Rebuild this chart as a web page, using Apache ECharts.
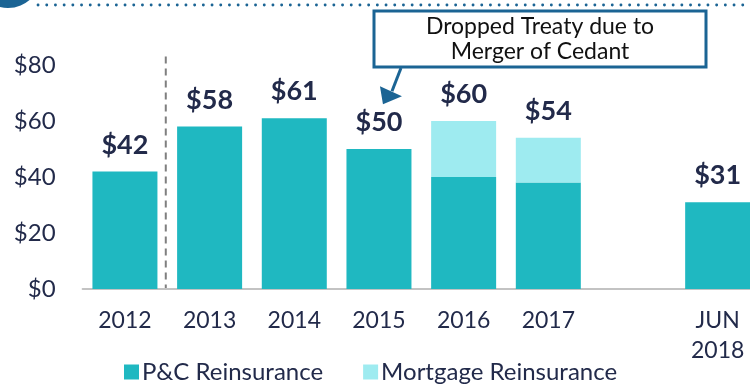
<!DOCTYPE html>
<html>
<head>
<meta charset="utf-8">
<script src="https://cdn.jsdelivr.net/npm/echarts@6/dist/echarts.min.js"></script>
<style>
  html, body { margin: 0; padding: 0; background: #fff; overflow: hidden; width: 750px; height: 386px; }
  /* canvas is wider than the page so the last bar runs off the right edge */
  #chart { width: 760px; height: 386px; }
</style>
</head>
<body>
<div id="chart"></div>
<script>
// Premium by year ($ millions); the blank category leaves a gap before the half-year bar
const categories = ['2012', '2013', '2014', '2015', '2016', '2017', '', 'JUN\n2018'];
const pcReinsurance = [42, 58, 61, 50, 40, 38, null, 31];
const mortgageReinsurance = [null, null, null, null, 20, 16, null, null];
const yTicks = [0, 20, 40, 60, 80];
const calloutText = 'Dropped Treaty due to\nMerger of Cedant';

const NAVY = '#222a4a';
const BLUE = '#1b6494';
const PC_COLOR = '#1fb8c1';
const MORT_COLOR = '#9eebf0';
const FONT = 'Lato, "Open Sans", sans-serif';

const totals = pcReinsurance.map((v, i) =>
  v == null ? null : v + (mortgageReinsurance[i] || 0));

const totalLabel = {
  show: true,
  position: 'top',
  distance: 13,
  color: NAVY,
  fontFamily: FONT,
  fontWeight: 'bold',
  fontSize: 27
};

const chart = echarts.init(document.getElementById('chart'), null, { renderer: 'canvas' });

chart.setOption({
  animation: false,
  textStyle: { fontFamily: FONT },
  grid: { left: 82.6, right: 0, top: 65, height: 224, containLabel: false },
  legend: {
    data: ['P&C Reinsurance', 'Mortgage Reinsurance'],
    top: 355,
    left: 119,
    icon: 'rect',
    itemWidth: 15,
    itemHeight: 15,
    itemGap: 40,
    textStyle: { color: NAVY, fontSize: 24, fontFamily: FONT, padding: [0, 0, 0, -2] }
  },
  xAxis: {
    type: 'category',
    data: categories,
    axisLine: { lineStyle: { color: '#c3c3c3', width: 2 } },
    axisTick: { show: false },
    axisLabel: { color: NAVY, fontSize: 23, fontFamily: FONT, margin: 17, lineHeight: 30, interval: 0 }
  },
  yAxis: {
    type: 'value',
    min: yTicks[0],
    max: yTicks[yTicks.length - 1],
    interval: 20,
    splitLine: { show: false },
    axisLine: { show: false },
    axisTick: { show: false },
    axisLabel: { color: NAVY, fontSize: 24, fontFamily: FONT, margin: 27, formatter: v => '$' + v }
  },
  series: [
    {
      name: 'P&C Reinsurance',
      type: 'bar',
      stack: 'premium',
      barWidth: 65,
      itemStyle: { color: PC_COLOR },
      data: pcReinsurance.map((v, i) => ({
        value: v,
        label: Object.assign({}, totalLabel, {
          show: mortgageReinsurance[i] == null,
          formatter: () => '$' + totals[i]
        })
      }))
    },
    {
      name: 'Mortgage Reinsurance',
      type: 'bar',
      stack: 'premium',
      barWidth: 65,
      itemStyle: { color: MORT_COLOR },
      label: Object.assign({}, totalLabel, {
        formatter: p => '$' + totals[p.dataIndex]
      }),
      data: mortgageReinsurance
    }
  ]
});

// Decorations placed relative to the axes: dashed divider after the first year,
// the callout box with its arrow, and the slide header rule.
const p0 = chart.convertToPixel({ seriesIndex: 0 }, [0, 0]);
const p1 = chart.convertToPixel({ seriesIndex: 0 }, [1, 0]);
const dividerX = (p0[0] + p1[0]) / 2 - 1.5;
const dividerTop = chart.convertToPixel({ seriesIndex: 0 }, [0, 83])[1];
const anchor = chart.convertToPixel({ seriesIndex: 0 }, [3, totals[3] + 16]);
const tip = [anchor[0] + 4, anchor[1]];

chart.setOption({
  graphic: [
    {
      type: 'line',
      shape: { x1: dividerX, y1: dividerTop, x2: dividerX, y2: p0[1] - 1 },
      style: { stroke: '#7f7f7f', lineWidth: 2, lineDash: [7, 5] }
    },
    {
      type: 'circle',
      shape: { cx: 8, cy: -25, r: 33 },
      style: { fill: BLUE }
    },
    {
      type: 'line',
      shape: { x1: 38, y1: 5, x2: 760, y2: 5 },
      style: { stroke: BLUE, lineWidth: 2.8, lineDash: [0.1, 8.6], lineCap: 'round' }
    },
    {
      type: 'rect',
      shape: { x: 374, y: 11, width: 332, height: 56 },
      style: { fill: '#fff', stroke: BLUE, lineWidth: 3 }
    },
    {
      type: 'text',
      x: 540, y: 39,
      style: {
        text: calloutText,
        fill: '#111',
        font: '23px ' + FONT,
        align: 'center',
        verticalAlign: 'middle',
        lineHeight: 25
      }
    },
    {
      type: 'line',
      shape: { x1: 401, y1: 68, x2: tip[0] + 9, y2: tip[1] - 13 },
      style: { stroke: BLUE, lineWidth: 3 }
    },
    {
      type: 'polygon',
      shape: { points: [[tip[0], tip[1]], [tip[0] - 3, tip[1] - 18], [tip[0] + 19, tip[1] - 8]] },
      style: { fill: BLUE }
    }
  ]
});
</script>
</body>
</html>
